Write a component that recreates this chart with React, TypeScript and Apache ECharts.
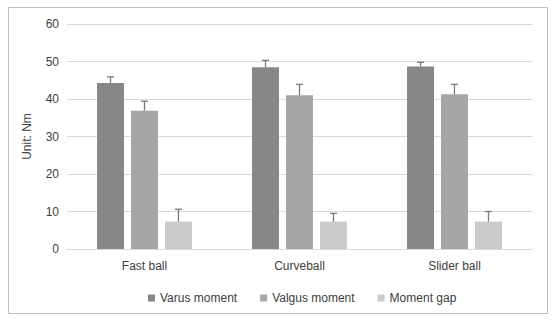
import React, { useEffect, useRef } from "react";
import * as echarts from "echarts";

const categories = ["Fast ball", "Curveball", "Slider ball"];
const seriesNames = ["Varus moment", "Valgus moment", "Moment gap"];
const varus = [44.3, 48.5, 48.7];
const valgus = [36.9, 41.0, 41.3];
const gap = [7.3, 7.3, 7.3];
const varusUpper = [45.9, 50.3, 49.8];
const valgusUpper = [39.4, 43.9, 43.9];
const gapUpper = [10.6, 9.5, 10.0];
const yTicks = [0, 10, 20, 30, 40, 50, 60];

const colors = ["#878787", "#a6a6a6", "#cacaca"];
const BAR_PCT = 0.174;
const GAP_PCT = 0.26;

export default function App() {
  const ref = useRef<HTMLDivElement>(null);
  useEffect(() => {
    document.body.style.margin = "0";
    const chart = echarts.init(ref.current!, null, { renderer: "svg" });
    const values = [varus, valgus, gap];
    const uppers = [varusUpper, valgusUpper, gapUpper];
    const barSeries = seriesNames.map((name, i) => ({
      name,
      type: "bar",
      data: values[i],
      barWidth: BAR_PCT * 100 + "%",
      barGap: GAP_PCT * 100 + "%",
      itemStyle: { color: colors[i] },
    }));
    const errSeries = seriesNames.map((name, i) => ({
      name: name + " error",
      type: "custom",
      z: 5,
      data: categories.map((_, c) => [c, values[i][c], uppers[i][c]]),
      renderItem: (params: any, api: any) => {
        const c = api.value(0);
        const base = api.coord([c, api.value(1)]);
        const top = api.coord([c, api.value(2)]);
        const band = api.size([1, 0])[0];
        const bw = band * BAR_PCT;
        const x = base[0] + (i - 1) * bw * (1 + GAP_PCT);
        const style = { stroke: "#7a7a7a", lineWidth: 1.3 };
        return {
          type: "group",
          children: [
            { type: "line", shape: { x1: x, y1: base[1], x2: x, y2: top[1] }, style },
            { type: "line", shape: { x1: x - 3.5, y1: top[1], x2: x + 3.5, y2: top[1] }, style },
          ],
        };
      },
    }));
    chart.setOption({
      animation: false,
      textStyle: { fontFamily: "Liberation Sans, Arial, sans-serif" },
      graphic: [
        {
          type: "rect",
          shape: { x: 8.5, y: 7.5, width: 539, height: 306 },
          style: { fill: "none", stroke: "#bfbfbf", lineWidth: 1 },
          z: -10,
        },
      ],
      grid: { left: 67, right: 23, top: 24, bottom: 74 },
      legend: {
        data: seriesNames,
        left: 148,
        top: 292,
        padding: 0,
        itemWidth: 7,
        itemHeight: 7,
        itemGap: 23,
        icon: "rect",
        textStyle: { fontSize: 12, color: "#404040" },
      },
      xAxis: {
        type: "category",
        data: categories,
        axisLine: { lineStyle: { color: "#d9d9d9" } },
        axisTick: { show: false },
        axisLabel: { fontSize: 12, color: "#404040", margin: 11 },
      },
      yAxis: {
        type: "value",
        min: yTicks[0],
        max: yTicks[yTicks.length - 1],
        interval: 10,
        name: "Unit: Nm",
        nameLocation: "middle",
        nameRotate: 90,
        nameGap: 34,
        nameTextStyle: { fontSize: 12, color: "#404040" },
        axisLine: { show: false },
        axisTick: { show: false },
        axisLabel: { fontSize: 12, color: "#404040", margin: 8 },
        splitLine: { lineStyle: { color: "#d9d9d9" } },
      },
      series: [...barSeries, ...errSeries],
    });
    return () => chart.dispose();
  }, []);
  return <div ref={ref} style={{ width: 555, height: 323 }} />;
}
